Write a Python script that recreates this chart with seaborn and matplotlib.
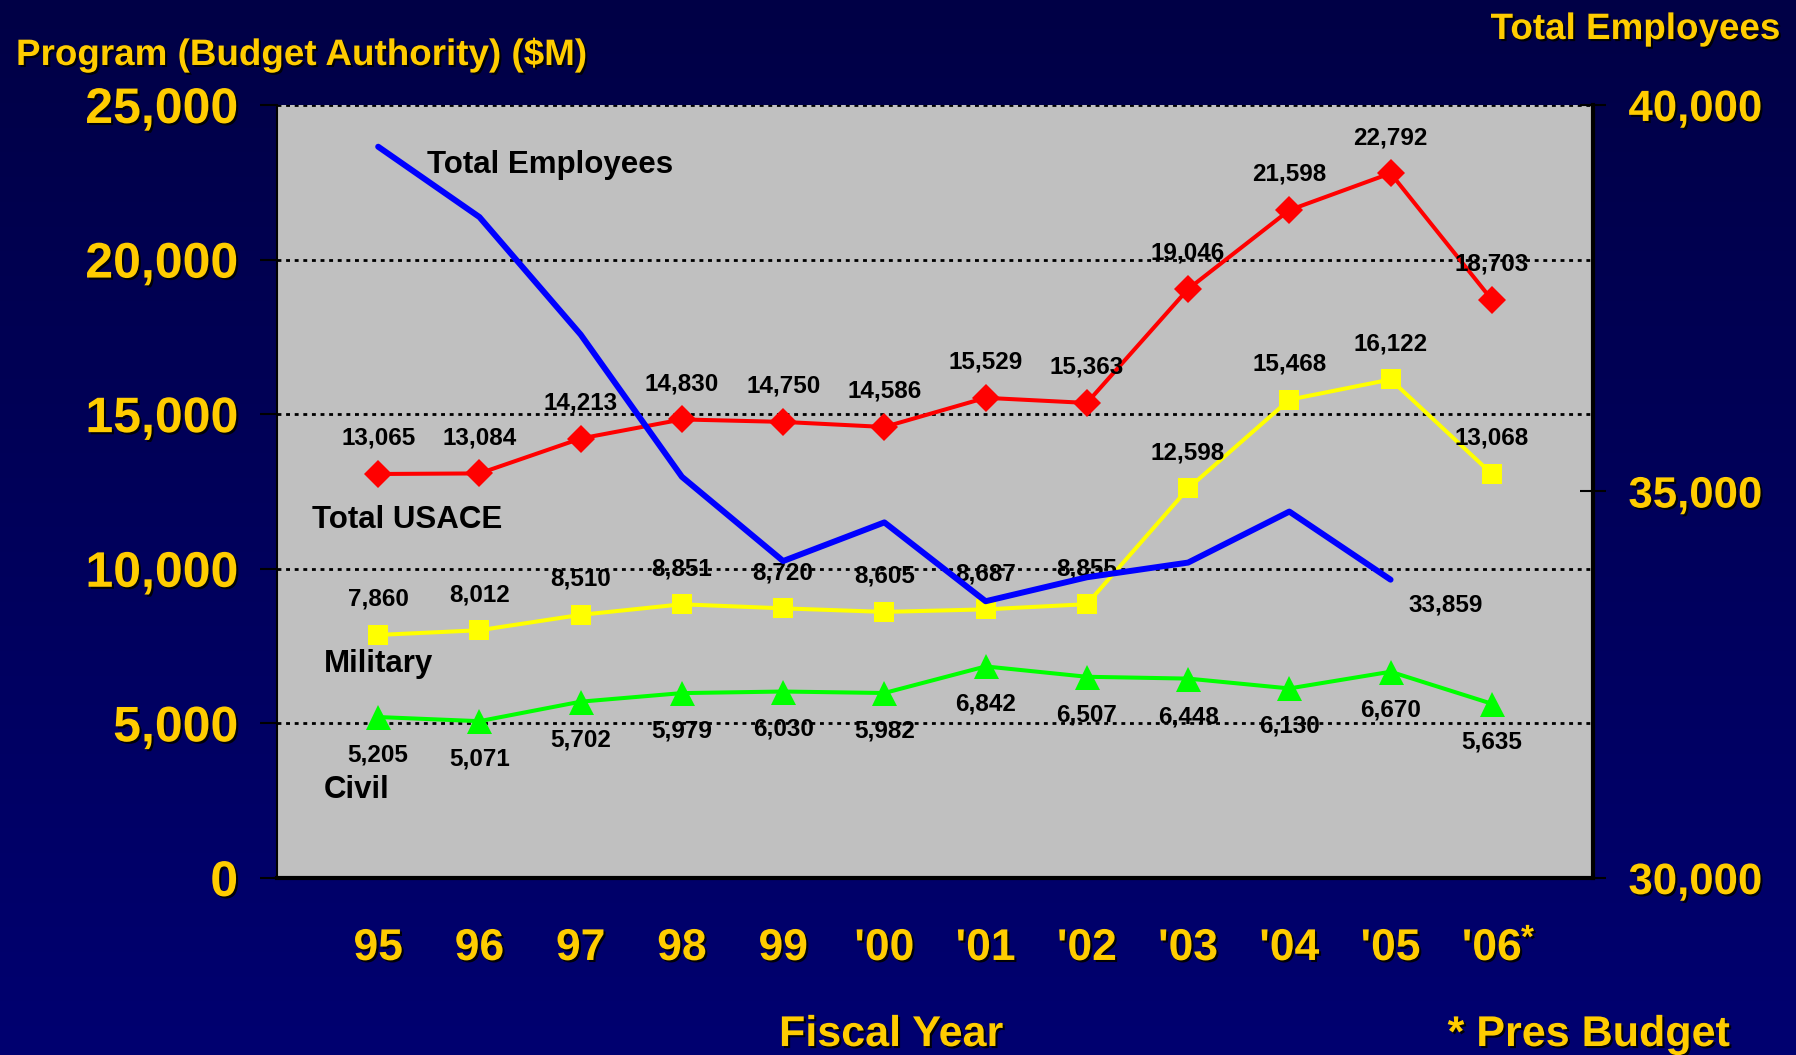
import numpy as np
import pandas as pd
import seaborn as sns
import matplotlib.pyplot as plt
import matplotlib.patheffects as pe
from matplotlib.ticker import FuncFormatter

# Fiscal years and program values ($M)
years = ['95', '96', '97', '98', '99', "'00", "'01", "'02", "'03", "'04", "'05", "'06"]
total_usace = [13065, 13084, 14213, 14830, 14750, 14586, 15529, 15363, 19046, 21598, 22792, 18703]
military = [7860, 8012, 8510, 8851, 8720, 8605, 8687, 8855, 12598, 15468, 16122, 13068]
civil = [5205, 5071, 5702, 5979, 6030, 5982, 6842, 6507, 6448, 6130, 6670, 5635]
# Total employees (right axis), no value for '06
employees = [39460, 38550, 37030, 35190, 34100, 34600, 33580, 33890, 34080, 34740, 33859]

sns.set_style('white')
plt.rcParams['font.family'] = ['Liberation Sans', 'DejaVu Sans']
plt.rcParams['font.weight'] = 'bold'

GOLD = '#FFCC00'
shadow = [pe.withSimplePatchShadow(offset=(1.5, -1.5), shadow_rgbFace='black', alpha=0.9)]

df = pd.DataFrame({'idx': np.arange(len(years)), 'usace': total_usace,
                   'military': military, 'civil': civil})
emp = pd.DataFrame({'idx': np.arange(len(employees)), 'emp': employees})

fig = plt.figure(figsize=(17.96, 10.55), dpi=100)

# navy gradient background
bg = fig.add_axes([0, 0, 1, 1], zorder=-10)
grad = np.linspace(0, 1, 256).reshape(-1, 1)
bg.imshow(grad, aspect='auto', extent=[0, 1, 0, 1],
          cmap=plt.matplotlib.colors.LinearSegmentedColormap.from_list('bg', ['#000046', '#000070']))
bg.axis('off')

ax = fig.add_axes([0.1542, 0.1678, 0.7328, 0.7327])
ax.set_facecolor('#C0C0C0')

line_kw = dict(markeredgewidth=0, linewidth=2.9, ax=ax)
sns.lineplot(data=df, x='idx', y='usace', color='#FF0000', marker='D', markersize=14,
             markeredgecolor='#FF0000', **line_kw)
sns.lineplot(data=df, x='idx', y='military', color='#FFFF00', marker='s', markersize=14,
             markeredgecolor='#FFFF00', **line_kw)
sns.lineplot(data=df, x='idx', y='civil', color='#00FF00', marker='^', markersize=18,
             markeredgecolor='#00FF00', **line_kw)

ax.set_xlim(-1, 12)
ax.set_ylim(0, 25000)
ax.set_yticks(range(0, 25001, 5000))
ax.yaxis.set_major_formatter(FuncFormatter(lambda v, p: f'{int(v):,}'))
ax.set_xticks(range(-1, 13))
ax.set_xticklabels([''] + years + [''])
ax.set_xlabel('')
ax.set_ylabel('')
ax.grid(axis='y', color='black', linestyle=(0, (1.4, 1.7)), linewidth=2)
ax.grid(axis='x', visible=False)
ax.set_axisbelow(True)

ax.tick_params(axis='y', direction='out', length=12, width=1.5, color='black',
               labelsize=36, labelcolor=GOLD, pad=16)
ax.tick_params(axis='x', direction='out', length=11, width=1.5, color='black',
               labelsize=32, labelcolor=GOLD, pad=25)
for lab in ax.get_yticklabels() + ax.get_xticklabels():
    lab.set_fontweight('bold')
    lab.set_path_effects(shadow)

for side in ['top', 'right']:
    ax.spines[side].set_visible(False)
ax.spines['left'].set_color('black')
ax.spines['left'].set_linewidth(1.5)
ax.spines['bottom'].set_color('black')
ax.spines['bottom'].set_linewidth(3)

# right axis: employees
ax2 = ax.twinx()
sns.lineplot(data=emp, x='idx', y='emp', color='#0000FF', linewidth=4.3, ax=ax2)
ax2.set_ylim(30000, 40000)
ax2.set_yticks([30000, 35000, 40000])
ax2.yaxis.set_major_formatter(FuncFormatter(lambda v, p: f'{int(v):,}'))
ax2.set_ylabel('')
ax2.tick_params(axis='y', direction='inout', length=19, width=1.5, color='black',
                labelsize=31.5, labelcolor=GOLD, pad=16)
for lab in ax2.get_yticklabels():
    lab.set_fontweight('bold')
    lab.set_path_effects(shadow)
for side in ['top', 'left', 'bottom']:
    ax2.spines[side].set_visible(False)
ax2.spines['right'].set_color('black')
ax2.spines['right'].set_linewidth(3)
ax2.patch.set_visible(False)

# data labels
lab_kw = dict(textcoords='offset points', ha='center', va='baseline',
              fontsize=17.5, fontweight='bold', color='black')
for i, v in enumerate(total_usace):
    ax.annotate(f'{v:,}', (i, v), xytext=(0, 21), **lab_kw)
for i, v in enumerate(military):
    ax.annotate(f'{v:,}', (i, v), xytext=(0, 21), **lab_kw)
for i, v in enumerate(civil):
    ax.annotate(f'{v:,}', (i, v), xytext=(0, -32), **lab_kw)
ax2.annotate(f'{employees[-1]:,}', (len(employees) - 1, employees[-1]), xytext=(40, -23),
             zorder=5, **lab_kw)

# series names
name_kw = dict(fontsize=22.5, fontweight='bold', color='black', ha='left', va='baseline')
ax.text(0.48, 22800, 'Total Employees', **name_kw)
ax.text(-0.65, 11320, 'Total USACE', **name_kw)
ax.text(-0.54, 6660, 'Military', **name_kw)
ax.text(-0.54, 2590, 'Civil', **name_kw)

# asterisk on '06
ax.annotate('*', (11, 0), xycoords=('data', 'axes fraction'), xytext=(21, -33),
            textcoords='offset points', ha='left', va='top', fontsize=24,
            fontweight='bold', color=GOLD, path_effects=shadow)

# axis titles and notes
fig.text(0.0089, 0.9384, 'Program (Budget Authority) ($M)', ha='left', va='baseline',
         fontsize=26.5, fontweight='bold', color=GOLD, path_effects=shadow)
fig.text(0.991, 0.963, 'Total Employees', ha='right', va='baseline',
         fontsize=26.5, fontweight='bold', color=GOLD, path_effects=shadow)
fig.text(0.496, 0.0085, 'Fiscal Year', ha='center', va='baseline',
         fontsize=31, fontweight='bold', color=GOLD, path_effects=shadow)
fig.text(0.806, 0.0085, '* Pres Budget', ha='left', va='baseline',
         fontsize=31, fontweight='bold', color=GOLD, path_effects=shadow)

fig.savefig('out.png', dpi=100)
